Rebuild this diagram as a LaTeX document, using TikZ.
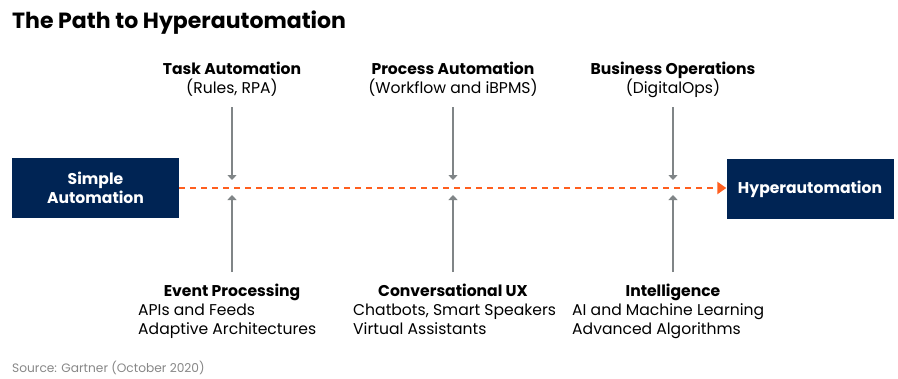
\documentclass[tikz,border=0pt]{standalone}
\usepackage{fontspec}
\setmainfont{Poppins}
\usetikzlibrary{arrows.meta, positioning}
\definecolor{navy}{RGB}{0,36,84}
\definecolor{gorange}{RGB}{255,95,31}
\definecolor{ggray}{RGB}{128,133,135}
\definecolor{srcgray}{RGB}{135,135,135}
\tikzset{
  blk/.style  ={fill=navy, text=white, font=\fontsize{15.6}{19}\selectfont\bfseries, align=center,
                minimum width=167pt, minimum height=60pt, inner sep=0pt},
  hd/.style   ={font=\fontsize{15.6}{19}\selectfont\bfseries, anchor=base, inner sep=0pt},
  sub/.style  ={font=\fontsize{15.6}{19}\selectfont, anchor=base, inner sep=0pt},
  lst/.style  ={font=\fontsize{15.6}{18.5}\selectfont, align=left, anchor=base west, inner sep=0pt},
  feed/.style ={-{Triangle[length=5pt, width=9pt]}, line width=1.4pt, ggray},           % side input
  path/.style ={-{Triangle[length=9pt, width=12pt]}, line width=2.6pt, gorange,
                dash pattern=on 6pt off 5pt},                                              % main route
}

\begin{document}
\begin{tikzpicture}[x=1pt, y=-1pt]
  \useasboundingbox (0,0) rectangle (898,378);
  \node[anchor=base west, inner sep=0pt, font=\fontsize{22}{26}\selectfont\bfseries] (ttl) at (12,28)
    {The Path to Hyperautomation};

  % ends of the path
  \node[blk] (sa) at (95.5,188) {Simple\\Automation};
  \node[blk] (ha) at (810,189) {Hyperautomation};
  \draw[path] (sa.east |- 0,188) -- (ha.west |- 0,188);

  % top inputs
  \node[hd]  (ta)  at (232,74) {Task Automation};
  \node[sub] (ta2) at (232,93) {(Rules, RPA)};
  \node[hd]  (pa)  at (453,74) {Process Automation};
  \node[sub] (pa2) at (453,93) {(Workflow and iBPMS)};
  \node[hd]  (bo)  at (673,74) {Business Operations};
  \node[sub] (bo2) at (673,93) {(DigitalOps)};

  % bottom inputs (base = last line)
  \node[hd]  (ep)  at (232,296) {Event Processing};
  \node[lst] (ep2) at (138,334) {APIs and Feeds\\Adaptive Architectures};
  \node[hd]  (cu)  at (453,296) {Conversational UX};
  \node[lst] (cu2) at (353,334) {Chatbots, Smart Speakers\\Virtual Assistants};
  \node[hd]  (in)  at (673,296) {Intelligence};
  \node[lst] (in2) at (572,334) {AI and Machine Learning\\Advanced Algorithms};

  % arrows meeting the path
  \foreach \n/\x in {1/232, 2/453, 3/673} {
    \coordinate (up\n) at (\x,107);
    \coordinate (ua\n) at (\x,180);
    \coordinate (dn\n) at (\x,272);
    \coordinate (da\n) at (\x,195);
    \draw[feed] (up\n) -- (ua\n);
    \draw[feed] (dn\n) -- (da\n);
  }

  \node[anchor=base west, inner sep=0pt, text=srcgray, font=\fontsize{12.2}{14}\selectfont] (src) at (12,372)
    {Source: Gartner (October 2020)};
\end{tikzpicture}
\end{document}
